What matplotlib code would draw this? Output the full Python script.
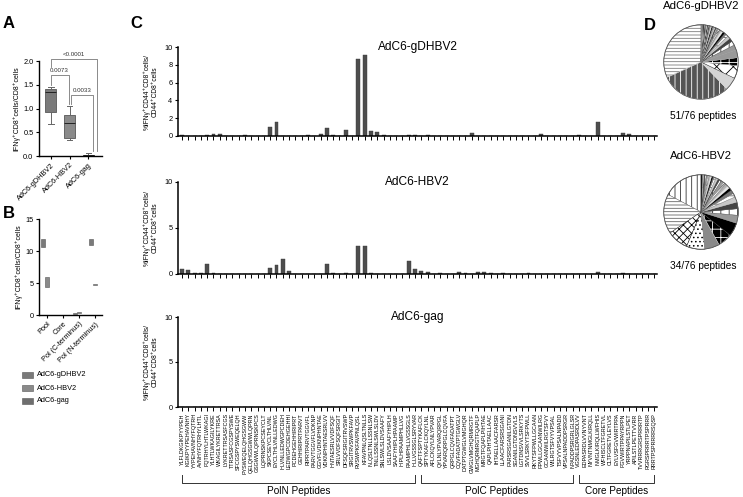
import matplotlib
matplotlib.use("Agg")
import matplotlib.pyplot as plt
import numpy as np
from matplotlib.transforms import blended_transform_factory

plt.rcParams['font.family'] = ['Liberation Sans', 'DejaVu Sans']
plt.rcParams['hatch.linewidth'] = 0.6

# ---------------- data ----------------
groups = ["AdC6-gDHBV2", "AdC6-HBV2", "AdC6-gag"]
group_colors = ["#7a7a7a", "#8a8a8a", "#6e6e6e"]

# Panel A box stats (min, q1, median, q3, max)
a_min = [0.68, 0.33, 0.00]
a_q1 = [0.92, 0.37, 0.005]
a_med = [1.35, 0.70, 0.02]
a_q3 = [1.42, 0.87, 0.03]
a_max = [1.45, 1.05, 0.07]
a_pvals = ["0.0073", "0.0033", "<0.0001"]

# Panel B ranges per group per category
b_categories = ["Pool", "Core", "Pol (C-terminus)", "Pol (N-terminus)"]
b_low = [[10.6, 0.0, 0.20, 10.9],
         [4.4, 0.0, 0.25, 4.65],
         [0.0, 0.0, 0.0, 0.0]]
b_high = [[11.9, 0.05, 0.35, 11.8],
          [5.9, 0.05, 0.40, 4.80],
          [0.02, 0.02, 0.02, 0.02]]

# Panel C peptides
poln_peptides = [
    "YLFLDKGIKPYYPEH", "KGIKPYYPEHAVNHY", "YYPEHAVNHYFQTRH", "AVNHYFQTRHYLHTL",
    "FQTRHYLHTLWKAGI", "YLHTLWKAGILYKRE", "WKAGILYKRETTRSA", "LYKRETTRSASFCGS",
    "TTRSASFCGSPYSWE", "SFCGSPYSWEQELQH", "PYSWEQELQHGSGWW", "QELQHGSGWWLQPRN",
    "GSGWWLQPRNSKPCS", "LQPRNSKPCSEYCLT", "SKPCSEYCLTHLVNL", "EYCLTHLVNLLEDWG",
    "HLVNLLEDWGPCDEH", "LEDWGPCDEHGEHHI", "PCDEHGEHHIRIPRT", "GEHHIRIPRTPARVT",
    "RIPRTPARVTGGVFL", "PARVTGGVFLVDKNP", "GGVFLVDKNPHNTAE", "VDKNPHNTAESRLVV",
    "HNTAESRLVVDFSQF", "SRLVVDFSQFSRGIT", "DFSQFSRGITRVSWP", "SRGITRVSWPKFAVP",
    "RVSWPKFAVPNLQSL", "KFAVPNLQSLTNLLS", "NLQSLTNLLSSNLSW", "TNLLSSNLSWLSLDV",
    "SNLSWLSLDVSAAFY", "LSLDVSAAFYHIPLH", "SAAFYHIPLHPAAMP", "HIPLHPAAMPHLLVG",
    "PAAMPHLLVGSSGLS", "HLLVGSSGLSRYVAR"]
polc_peptides = [
    "QAFTFSPTYKAFLCK", "SPTYKAFLCKQYLNL", "AFLCKQYLNLYPVAR", "QYLNLYPVARQRPGL",
    "YPVARQRPGLCQVFA", "QRPGLCQVFADATPT", "CQVFADATPTGWGLV", "DATPTGWGLVMGHQR",
    "GWGLVMGHQRMRGTF", "MGHQRMRGTFQAPLP", "MRGTFQAPLPIHTAE", "QAPLPIHTAELLAAC",
    "IHTAELLAACFARSR", "LLAACFARSRSGANI", "FARSRSGANILGTDN", "SGANILGTDNSVVLS",
    "LGTDNSVVLSRKYTS", "SVVLSRKYTSFPWLL", "RKYTSFPWLLGCAAN", "FPWLLGCAANWILRG",
    "GCAANWILRGTSFVY", "WILRGTSFVYVPSAL", "TSFVYVPSALNPADD", "VPSALNPADDPSRGR",
    "NPADDPSRGRLGLSR"]
core_peptides = [
    "VGSNLEDPASRDLVV", "EDPASRDLVVNYVNT", "NYVNTNMGLKIRQLL", "NMGLKIRQLLWFHIS",
    "WFHISCLTFGRETVL", "CLTFGRETVLEYLVS", "EYLVSFGVWIRTPPA", "FGVWIRTPPAYRPPN",
    "YRPPNAPILSTLPET", "APILSTLPETTVVRR", "TVVRRRGRSPRRRTP", "RGRSPRRRTPSPRRR",
    "RRRTPSPRRRRSQSP"]
peptides = poln_peptides + polc_peptides + core_peptides
region_names = ["PolN Peptides", "PolC Peptides", "Core Peptides"]

gdhbv2_vals = [0.10, 0.05, 0.03, 0.05, 0.08, 0.25, 0.20, 0.05, 0.04, 0.05,
               0.10, 0.04, 0.03, 0.05, 1.00, 1.60, 0.04, 0.05, 0.03, 0.05,
               0.06, 0.04, 0.25, 0.95, 0.10, 0.03, 0.65, 0.05, 8.70, 9.10,
               0.55, 0.45, 0.10, 0.03, 0.00, 0.05, 0.15, 0.15, 0.05, 0.15,
               0.05, 0.00, 0.00, 0.03, 0.00, 0.05, 0.35, 0.00, 0.00, 0.00,
               0.00, 0.05, 0.00, 0.00, 0.00, 0.00, 0.00, 0.20, 0.00, 0.00,
               0.00, 0.03, 0.00, 0.15, 0.00, 0.00, 1.60, 0.00, 0.00, 0.05,
               0.30, 0.25, 0.00, 0.00, 0.00, 0.00]
hbv2_vals = [0.50, 0.40, 0.10, 0.15, 1.10, 0.10, 0.05, 0.00, 0.05, 0.00,
             0.05, 0.00, 0.00, 0.00, 0.60, 1.00, 1.60, 0.30, 0.00, 0.05,
             0.00, 0.00, 0.00, 1.10, 0.15, 0.00, 0.10, 0.00, 3.00, 3.00,
             0.10, 0.00, 0.00, 0.00, 0.00, 0.00, 1.40, 0.50, 0.30, 0.20,
             0.00, 0.10, 0.00, 0.00, 0.20, 0.15, 0.00, 0.20, 0.20, 0.15,
             0.00, 0.10, 0.00, 0.00, 0.00, 0.10, 0.00, 0.00, 0.00, 0.00,
             0.00, 0.00, 0.00, 0.00, 0.00, 0.00, 0.20, 0.00, 0.00, 0.00,
             0.10, 0.00, 0.00, 0.00, 0.00, 0.00]
gag_vals = [0.0] * 76

pie_titles = ["AdC6-gDHBV2", "AdC6-HBV2"]
pie_captions = ["51/76 peptides", "34/76 peptides"]

# ---------------- layout helpers ----------------
W, H = 743, 497
fig = plt.figure(figsize=(W / 100, H / 100), dpi=100)


def px(x0, y0, x1, y1):
    return [x0 / W, 1 - y1 / H, (x1 - x0) / W, (y1 - y0) / H]


def ftext(x, y, s, **kw):
    fig.text(x / W, 1 - y / H, s, **kw)


def style_axes(ax, lw=1.0):
    for s in ["top", "right"]:
        ax.spines[s].set_visible(False)
    for s in ["left", "bottom"]:
        ax.spines[s].set_linewidth(lw)
    ax.tick_params(width=0.8, length=2.5, labelsize=5.3, pad=1.5)


ylab = "IFN\u03b3\u207aCD8\u207acells/CD8\u207acells"

# ---------------- Panel A ----------------
axA = fig.add_axes(px(39, 61, 102, 156))
stats = [dict(whislo=a_min[i], q1=a_q1[i], med=a_med[i], q3=a_q3[i],
              whishi=a_max[i], fliers=[], label=groups[i]) for i in range(3)]
bp = axA.bxp(stats, positions=[0, 1, 2], widths=0.6, patch_artist=True,
             showfliers=False,
             boxprops=dict(edgecolor="#666666", linewidth=0.7),
             medianprops=dict(color="#222222", linewidth=0.7),
             whiskerprops=dict(color="#666666", linewidth=0.7),
             capprops=dict(color="#666666", linewidth=0.7))
for patch, c in zip(bp["boxes"], group_colors):
    patch.set_facecolor(c)
axA.set_ylim(0, 2.0)
axA.set_xlim(-0.62, 2.72)
axA.set_yticks([0, 0.5, 1.0, 1.5, 2.0])
axA.set_yticklabels(["0.0", "0.5", "1.0", "1.5", "2.0"])
axA.set_xticks([0, 1, 2])
axA.set_xticklabels(groups, rotation=45, ha="right", rotation_mode="anchor")
style_axes(axA)
axA.set_ylabel(ylab, fontsize=5, labelpad=2)

brackets = [(0.0, 0.95, 1.70, 1.50, 1.10, a_pvals[0]),
            (1.1, 2.25, 1.28, 1.10, 0.10, a_pvals[1]),
            (0.0, 2.45, 2.05, 1.88, 0.10, a_pvals[2])]
for x1, x2, yb, yl, yr, lab in brackets:
    axA.plot([x1, x1, x2, x2], [yl, yb, yb, yr], color="#777777", lw=0.6,
             clip_on=False)
    axA.text((x1 + x2) / 2, yb + 0.04, lab, ha="center", va="bottom",
             fontsize=4.4, color="#333333", clip_on=False)

ftext(3, 23, "A", fontsize=12, fontweight="bold", va="center", ha="left")

# ---------------- Panel B ----------------
axB = fig.add_axes(px(39, 219, 102, 315))
offsets = [-0.25, 0.0, 0.25]
xs = np.arange(len(b_categories))
for g in range(3):
    lo = np.array(b_low[g])
    hi = np.array(b_high[g])
    axB.bar(xs + offsets[g], hi - lo, bottom=lo, width=0.2,
            color=group_colors[g], edgecolor="#555555", linewidth=0.4)
axB.set_ylim(0, 15)
axB.set_xlim(-0.5, 3.44)
axB.set_yticks([0, 5, 10, 15])
axB.set_xticks(xs)
axB.set_xticklabels(b_categories, rotation=45, ha="right",
                    rotation_mode="anchor")
style_axes(axB)
axB.set_ylabel(ylab, fontsize=5, labelpad=2)
ftext(3, 213, "B", fontsize=12, fontweight="bold", va="center", ha="left")

# legend
for i, (g, c) in enumerate(zip(groups, group_colors)):
    y = 375 + i * 13
    fig.add_artist(plt.Rectangle((22 / W, 1 - (y + 3) / H), 11 / W, 6 / H,
                                 transform=fig.transFigure, facecolor=c,
                                 edgecolor="#555555", linewidth=0.4))
    ftext(37, y, g, fontsize=5.3, va="center", ha="left")

# ---------------- Panel C ----------------
nC = len(peptides)
xC = np.arange(nC)
panel_specs = [(47, 136, gdhbv2_vals, [0, 2, 4, 6, 8, 10], "AdC6-gDHBV2"),
               (182, 274, hbv2_vals, [0, 5, 10], "AdC6-HBV2"),
               (317, 407, gag_vals, [0, 5, 10], "AdC6-gag")]
clab = "%IFN\u03b3\u207aCD44\u207aCD8\u207acells/\nCD44\u207aCD8\u207acells"
axesC = []
for (ytop, ybot, vals, yt, title) in panel_specs:
    ax = fig.add_axes(px(178, ytop, 657, ybot))
    ax.bar(xC, vals, width=0.62, color="#4d4d4d", edgecolor="#3a3a3a",
           linewidth=0.3)
    ax.set_xlim(-0.63, 75.4)
    ax.set_ylim(0, 10)
    ax.set_yticks(yt)
    ax.set_xticks(xC)
    ax.set_xticklabels([])
    style_axes(ax, lw=1.1)
    ax.tick_params(axis="x", length=3, width=0.7)
    ax.text(0.5, 1.0, title, transform=ax.transAxes, ha="center",
            va="center", fontsize=8.6)
    ax.set_ylabel(clab, fontsize=4.8, labelpad=4, linespacing=1.1)
    axesC.append(ax)

axC = axesC[-1]
axC.set_xticklabels(peptides, rotation=90, fontsize=3.9, va="top")
axC.tick_params(axis="x", pad=1.5)

ftext(130, 23, "C", fontsize=12, fontweight="bold", va="center", ha="left")

# brackets under peptide labels
trans = blended_transform_factory(axC.transData, fig.transFigure)
starts = [0, len(poln_peptides), len(poln_peptides) + len(polc_peptides)]
ends = [len(poln_peptides) - 1, len(poln_peptides) + len(polc_peptides) - 1,
        nC - 1]
yb_top = 1 - 475 / H
yb_bot = 1 - 483 / H
for s, e, name in zip(starts, ends, region_names):
    axC.plot([s, s, e, e], [yb_top, yb_bot, yb_bot, yb_top], color="#333333",
             lw=0.7, transform=trans, clip_on=False)
    axC.text((s + e) / 2, 1 - 491 / H, name, transform=trans, ha="center",
             va="center", fontsize=7.2)

# ---------------- Panel D ----------------
pie_data = [gdhbv2_vals, hbv2_vals]
pie_centers = [62, 212]
styles_first = [
    [("white", "#7a7a7a", "-----"), ("#555555", "white", "|||"),
     ("#d5d5d5", "#d5d5d5", None), ("white", "black", "xx"),
     ("black", "white", "++"), ("#999999", "#999999", None)],
    [("white", "#333333", "|||"), ("white", "#666666", "-----"),
     ("white", "black", "xxxx"), ("white", "black", "...."),
     ("#8a8a8a", "#8a8a8a", None), ("black", "white", "++"),
     ("black", "black", None)],
]
thin_cycle = [("#999999", "#999999", None), ("white", "#333333", "||"),
              ("#444444", "#444444", None), ("#c8c8c8", "#c8c8c8", None),
              ("white", "#666666", "--"), ("#777777", "#777777", None),
              ("black", "black", None), ("#e6e6e6", "#e6e6e6", None),
              ("#b0b0b0", "#b0b0b0", None), ("white", "#555555", "////")]

for k in range(2):
    vals = np.array(pie_data[k])
    nz = np.sort(vals[vals > 0])[::-1]
    cy = pie_centers[k]
    axP = fig.add_axes(px(663, cy - 38, 739, cy + 38))
    wedges, _ = axP.pie(nz, startangle=90, counterclock=True,
                        wedgeprops=dict(linewidth=0.3))
    for i, w in enumerate(wedges):
        st = styles_first[k]
        if i < len(st):
            fc, ec, ht = st[i]
        else:
            fc, ec, ht = thin_cycle[(i - len(st)) % len(thin_cycle)]
        w.set_facecolor(fc)
        w.set_edgecolor(ec)
        if ht:
            w.set_hatch(ht)
    circ = plt.Circle((0, 0), 1.0, fill=False, edgecolor="#555555", lw=0.6)
    axP.add_patch(circ)
    axP.set_xlim(-1.02, 1.02)
    axP.set_ylim(-1.02, 1.02)
    axP.set_aspect("equal")
    axP.axis("off")
    ftext(701, cy - 56, pie_titles[k], fontsize=8.2, ha="center", va="center")
    ftext(703, cy + 54, pie_captions[k], fontsize=7.3, ha="center",
          va="center")

ftext(644, 25, "D", fontsize=12, fontweight="bold", va="center", ha="left")

fig.savefig("out.png", dpi=100)
